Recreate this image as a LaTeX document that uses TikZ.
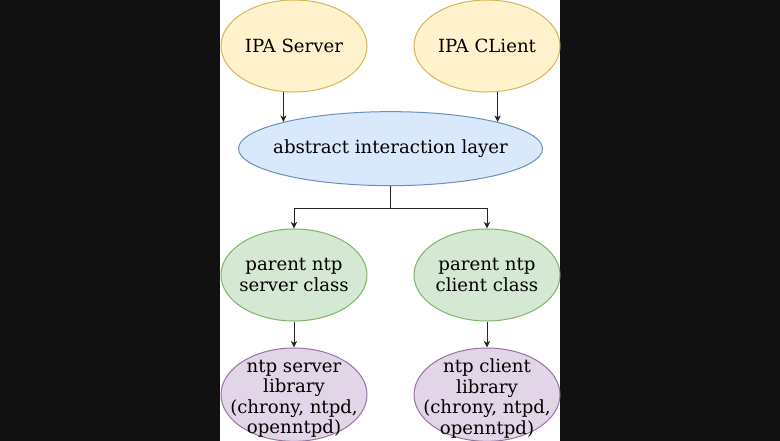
\documentclass[tikz,border=0pt]{standalone}
\usepackage{fontspec}
\setmainfont{DejaVu Serif}
\usetikzlibrary{shapes,arrows,arrows.meta,positioning,calc}
\definecolor{pagebg}{RGB}{17,17,17}
\definecolor{ipafill}{HTML}{FFF2CC}
\definecolor{ipadraw}{HTML}{D6B656}
\definecolor{layfill}{HTML}{DAE8FC}
\definecolor{laydraw}{HTML}{6C8EBF}
\definecolor{parfill}{HTML}{D5E8D4}
\definecolor{pardraw}{HTML}{82B366}
\definecolor{libfill}{HTML}{E1D5E7}
\definecolor{libdraw}{HTML}{9673A6}

\begin{document}
\begin{tikzpicture}[x=0.75pt, y=-0.75pt,
    node distance=19.5pt and 34.5pt,
    oval/.style={ellipse, inner sep=0pt, line width=0.75pt, minimum width=109.5pt, minimum height=69pt},
    ovaltext/.style 2 args={label={[align=center, font=\fontsize{13.6}{15.4}\selectfont, yshift=#2]center:{#1}}},
    ipa/.style={oval, ovaltext={#1}{0pt}, draw=ipadraw, fill=ipafill},
    layer/.style={oval, ovaltext={#1}{0pt}, draw=laydraw, fill=layfill, minimum width=228pt, minimum height=55.5pt},
    parent/.style={oval, ovaltext={#1}{0pt}, draw=pardraw, fill=parfill},
    lib/.style={oval, ovaltext={#1}{-3pt}, draw=libdraw, fill=libfill, minimum height=70pt},
    arrow/.style={-{Stealth[length=4.8pt, width=4.6pt, inset=1.2pt]}, line width=0.75pt, black!85}]
  \useasboundingbox (0,0) rectangle (780,441);
  \fill[pagebg] (0,0) rectangle (780,441);
  \fill[white] (220,0) rectangle (560,441);
  \node[ipa={IPA Server}] (srv) at (294,46) {};
  \node[ipa={IPA CLient}, right=of srv] (cli) {};
  \node[layer={abstract interaction layer}, below=14pt of $(srv.south)!0.5!(cli.south)$] (lay) {};
  \node[parent={parent ntp\\server class}] (psrv) at (294,275) {};
  \node[parent={parent ntp\\client class}, right=of psrv] (pcli) {};
  \node[lib={ntp server\\library\\(chrony, ntpd,\\openntpd)}, below=of psrv] (lsrv) {};
  \node[lib={ntp client\\library\\(chrony, ntpd,\\openntpd)}, below=of pcli] (lcli) {};
  \coordinate (split) at ($(lay.south)+(0,22)$);
  \draw[arrow] (lay.166 |- srv.south) -- (lay.166);
  \draw[arrow] (lay.14 |- cli.south) -- (lay.14);
  \draw[arrow] (lay.south) -- (split) -| (psrv.north);
  \draw[arrow] (split) -| (pcli.north);
  \draw[arrow] (psrv) -- (lsrv);
  \draw[arrow] (pcli) -- (lcli);
\end{tikzpicture}
\end{document}
